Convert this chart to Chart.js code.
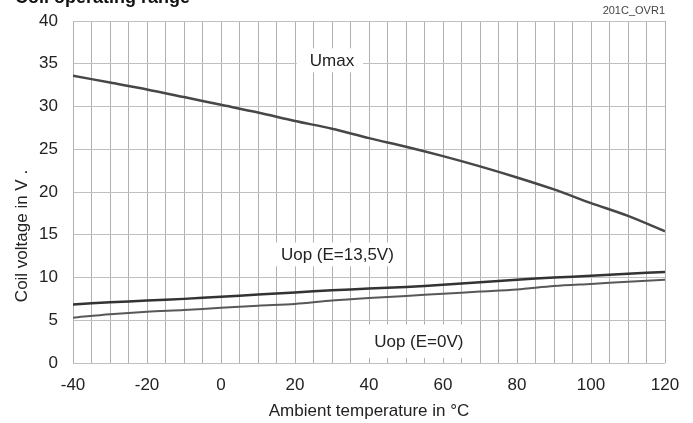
<!DOCTYPE html>
<html>
<head>
<meta charset="utf-8">
<script src="https://cdn.jsdelivr.net/npm/chart.js@4/dist/chart.umd.min.js"></script>
<style>
  html, body { margin: 0; padding: 0; background: #fff; }
  #wrap { width: 693px; height: 423px; }
</style>
</head>
<body>
<div id="wrap"><canvas id="coilChart" width="693" height="423"></canvas></div>
<script>
// temperatures (°C)
const temps = [-40, -30, -20, -10, 0, 10, 20, 30, 40, 50, 60, 70, 80, 90, 100, 110, 120];
// coil voltages (V)
const uMax = [33.6, 32.8, 32.0, 31.1, 30.2, 29.3, 28.3, 27.4, 26.3, 25.3, 24.2, 23.0, 21.7, 20.3, 18.7, 17.2, 15.4];
const uOp135 = [6.85, 7.1, 7.3, 7.5, 7.75, 8.0, 8.25, 8.5, 8.7, 8.9, 9.15, 9.45, 9.75, 10.0, 10.2, 10.45, 10.65];
const uOp0 = [5.3, 5.7, 6.0, 6.2, 6.45, 6.7, 6.9, 7.3, 7.6, 7.85, 8.1, 8.35, 8.6, 9.0, 9.25, 9.5, 9.75];
const xTickLabels = [-40, -20, 0, 20, 40, 60, 80, 100, 120];
const yTickLabels = [0, 5, 10, 15, 20, 25, 30, 35, 40];

const FONT = "'Liberation Sans', Arial, sans-serif";

function toPoints(vals) {
  return temps.map((t, i) => ({ x: t, y: vals[i] }));
}

// curve labels with white boxes (x0,x1 in °C, y0,y1 in V)
const curveLabels = [
  { text: 'Umax', box: [20.5, 38.4, 36.8, 34.0], tx: 24.0 },
  { text: 'Uop (E=13,5V)', box: [14.5, 48.4, 14.1, 11.3], tx: 16.2 },
  { text: 'Uop (E=0V)', box: [38.4, 66.8, 4.5, 0.6], tx: 41.4 },
];

const decorPlugin = {
  id: 'decor',
  beforeDatasetsDraw(chart) {
    const { ctx } = chart;
    const xs = chart.scales.x, ys = chart.scales.y;
    ctx.save();
    curveLabels.forEach(l => {
      const x0 = xs.getPixelForValue(l.box[0]), x1 = xs.getPixelForValue(l.box[1]);
      const y0 = ys.getPixelForValue(l.box[2]), y1 = ys.getPixelForValue(l.box[3]);
      ctx.fillStyle = '#fff';
      ctx.fillRect(x0, y0, x1 - x0, y1 - y0);
      ctx.fillStyle = '#222';
      ctx.font = '17px ' + FONT;
      ctx.textBaseline = 'middle';
      ctx.textAlign = 'left';
      ctx.fillText(l.text, xs.getPixelForValue(l.tx), (y0 + y1) / 2 + 1);
    });
    ctx.restore();
  },
  afterDraw(chart) {
    const { ctx } = chart;
    ctx.save();
    // title, cut at top edge
    ctx.fillStyle = '#111';
    ctx.font = 'bold 18px ' + FONT;
    ctx.textBaseline = 'alphabetic';
    ctx.textAlign = 'left';
    ctx.fillText('Coil operating range', 15, 3);
    // drawing reference
    ctx.font = '11px ' + FONT;
    ctx.fillStyle = '#444';
    ctx.textAlign = 'right';
    ctx.fillText('201C_OVR1', 665, 14);
    // axis titles
    ctx.fillStyle = '#222';
    ctx.font = '17px ' + FONT;
    ctx.textAlign = 'center';
    ctx.textBaseline = 'middle';
    ctx.fillText('Ambient temperature in °C', 369, 411);
    ctx.translate(22, 236);
    ctx.rotate(-Math.PI / 2);
    ctx.fillText('Coil voltage in V .', 0, 0);
    ctx.restore();
  }
};

new Chart(document.getElementById('coilChart'), {
  type: 'line',
  data: {
    datasets: [
      { label: 'Umax', data: toPoints(uMax), borderColor: '#474747', borderWidth: 2.5 },
      { label: 'Uop (E=13,5V)', data: toPoints(uOp135), borderColor: '#333', borderWidth: 2.5 },
      { label: 'Uop (E=0V)', data: toPoints(uOp0), borderColor: '#585858', borderWidth: 2 },
    ],
  },
  options: {
    responsive: false,
    animation: false,
    layout: { padding: { top: 21, right: 28, left: 0, bottom: 0 } },
    elements: { point: { radius: 0 }, line: { tension: 0.3 } },
    scales: {
      x: {
        type: 'linear',
        min: -40,
        max: 120,
        afterFit: (s) => { s.height = 60; s.paddingLeft = 0; s.paddingRight = 0; },
        afterBuildTicks: (s) => {
          const t = [];
          for (let v = -40; v <= 120; v += 5) t.push({ value: v });
          s.ticks = t;
        },
        grid: { color: '#b0b0b0', lineWidth: 1, drawTicks: false },
        border: { display: false },
        ticks: {
          autoSkip: false,
          maxRotation: 0,
          padding: 12,
          color: '#222',
          font: { family: FONT, size: 17 },
          callback: (v) => xTickLabels.includes(v) ? String(v) : '',
        },
      },
      y: {
        type: 'linear',
        min: 0,
        max: 40,
        afterFit: (s) => { s.width = 73; s.paddingTop = 0; s.paddingBottom = 0; },
        afterBuildTicks: (s) => { s.ticks = yTickLabels.map(v => ({ value: v })); },
        grid: { color: '#c0c0c0', lineWidth: 1, drawTicks: false },
        border: { display: false },
        ticks: {
          padding: 15,
          color: '#222',
          font: { family: FONT, size: 17 },
        },
      },
    },
    plugins: {
      legend: { display: false },
      tooltip: { enabled: false },
    },
  },
  plugins: [decorPlugin],
});
</script>
</body>
</html>
